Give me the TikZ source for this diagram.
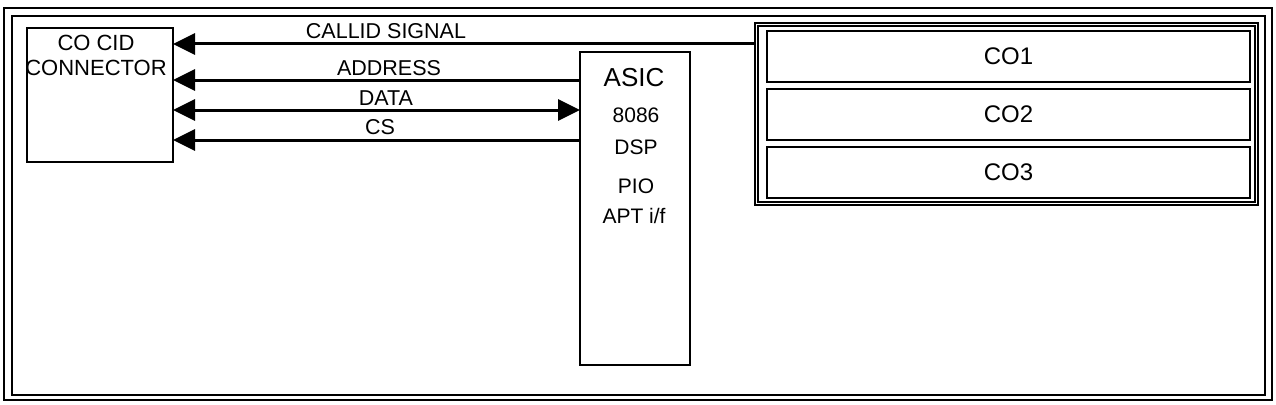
\documentclass[tikz,border=0pt]{standalone}
\usepackage{fontspec}
\setmainfont{Liberation Sans}
\usetikzlibrary{arrows.meta}
\begin{document}
\begin{tikzpicture}[x=1pt,y=-1pt,
  box/.style={draw, line width=1.6pt, inner sep=0pt, outer sep=0pt, anchor=north west},
  cobox/.style={box, line width=1.5pt, minimum width=483pt, minimum height=51pt},
  sig/.style={line width=3pt, -{Triangle[length=22pt,width=21pt]}},
  bisig/.style={line width=3pt, {Triangle[length=22pt,width=21pt]}-{Triangle[length=22pt,width=21pt]}},
  lbl/.style={font=\fontsize{21.5}{24}\selectfont, inner sep=0pt},
  asictxt/.style={font=\fontsize{21}{24}\selectfont, inner sep=0pt},
  cotxt/.style={font=\fontsize{24}{28}\selectfont}]
\useasboundingbox (0,0) rectangle (1276,404);
% frames
\draw[line width=1.4pt] (4,8) rectangle (1272,400);
\draw[line width=1.6pt] (12,16) rectangle (1265,395);
% boxes
\node[box, minimum width=146pt, minimum height=134pt] (cid) at (27,28) {};
\node[font=\fontsize{22}{25}\selectfont, align=center, inner sep=0pt] (cidtxt) at (96,55) {CO CID\\CONNECTOR};
\node[box, minimum width=110pt, minimum height=313pt] (asic) at (580,52) {};
\node[font=\fontsize{26}{30}\selectfont, inner sep=0pt] (asic1) at (634,78) {ASIC};
\node[asictxt] (asic2) at (636,115) {8086};
\node[asictxt] (asic3) at (636,147) {DSP};
\node[asictxt] (asic4) at (636,186) {PIO};
\node[asictxt] (asic5) at (634,216) {APT i/f};
\node[box, line width=1.2pt, minimum width=503pt, minimum height=182pt] (cogroup) at (755,23) {};
\draw[line width=1.2pt] ([shift={(3pt,-3pt)}]cogroup.north west) rectangle ([shift={(-3pt,3pt)}]cogroup.south east);
\node[cobox] (co1) at (767,31) {};
\node[cobox] (co2) at (767,89) {};
\node[cobox] (co3) at (767,147) {};
\node[cotxt] at (co1.center) {CO1};
\node[cotxt] at (co2.center) {CO2};
\node[cotxt] at (co3.center) {CO3};
% connectors
\draw[sig] (cogroup.west |- 0,44) -- (cid.east |- 0,44);
\draw[sig] (asic.west |- 0,80) -- (cid.east |- 0,80);
\draw[bisig] (cid.east |- 0,110) -- (asic.west |- 0,110);
\draw[sig] (asic.west |- 0,140) -- (cid.east |- 0,140);
% labels
\node[lbl] (l1) at (386,31) {CALLID SIGNAL};
\node[lbl] (l2) at (389,68) {ADDRESS};
\node[lbl] (l3) at (386,98) {DATA};
\node[lbl] (l4) at (380,127) {CS};
\end{tikzpicture}
\end{document}
